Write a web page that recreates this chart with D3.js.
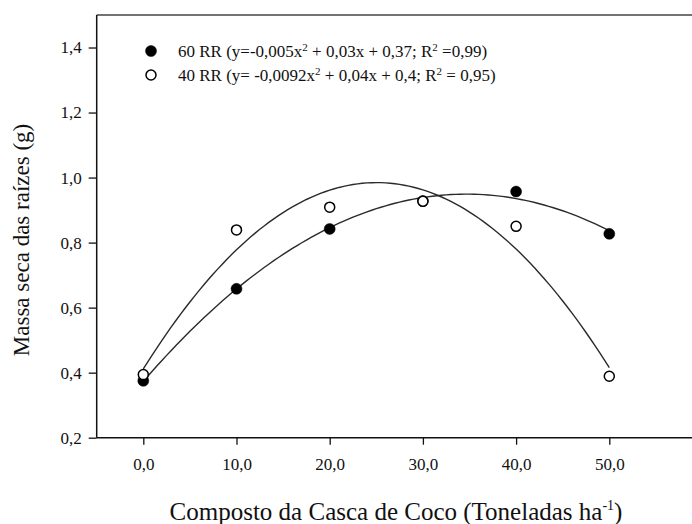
<!DOCTYPE html>
<html>
<head>
<meta charset="utf-8">
<script src="https://cdn.jsdelivr.net/npm/d3@7"></script>
<style>
    body { margin: 0; background: #fff; }
    svg text { font-family: "Liberation Serif", "Times New Roman", serif; fill: #111; }
</style>
</head>
<body>
<div id="chart"></div>
<script>
// data
let doses = [0, 10, 20, 30, 40, 50];
let rr60 = [0.375, 0.658, 0.842, 0.928, 0.957, 0.827];
let rr40 = [0.394, 0.839, 0.909, 0.927, 0.850, 0.389];
let xTicks = [0, 10, 20, 30, 40, 50];
let yTicks = [0.2, 0.4, 0.6, 0.8, 1.0, 1.2, 1.4];

// set the dimensions of the graph
let W = 692, H = 524;
let plotLeft = 96.7, plotTop = 15, plotBottom = 437.7;
let serif = "'Liberation Serif', 'Times New Roman', serif";

let svg = d3.select("#chart")
    .append("svg")
    .attr("width", W)
    .attr("height", H)
    .attr("font-family", serif);

let x = d3.scaleLinear()
    .domain([-5, 60])
    .range([plotLeft, plotLeft + 65 * 9.32]);

let y = d3.scaleLinear()
    .domain([0.2, 1.5])
    .range([plotBottom, plotTop]);

let fmt = function(d) { return d3.format(".1f")(d).replace(".", ","); };

// quadratic least squares fit of a series
function quadFit(xs, ys) {
    let n = xs.length, s = [0, 0, 0, 0, 0], t = [0, 0, 0];
    for (let i = 0; i < n; i++) {
        let p = 1;
        for (let k = 0; k < 5; k++) { s[k] += p; if (k < 3) t[k] += p * ys[i]; p *= xs[i]; }
    }
    let m = [[s[0], s[1], s[2], t[0]], [s[1], s[2], s[3], t[1]], [s[2], s[3], s[4], t[2]]];
    for (let i = 0; i < 3; i++) {
        for (let j = i + 1; j < 3; j++) {
            let f = m[j][i] / m[i][i];
            for (let k = i; k < 4; k++) m[j][k] -= f * m[i][k];
        }
    }
    let c = [0, 0, 0];
    for (let i = 2; i >= 0; i--) {
        let v = m[i][3];
        for (let k = i + 1; k < 3; k++) v -= m[i][k] * c[k];
        c[i] = v / m[i][i];
    }
    return function(v) { return c[0] + c[1] * v + c[2] * v * v; };
}

// frame: top line, left axis, bottom axis
svg.append("line")
    .attr("x1", plotLeft).attr("x2", W)
    .attr("y1", plotTop).attr("y2", plotTop)
    .attr("stroke", "#444").attr("stroke-width", 1.5);

let yAxis = svg.append("g")
    .attr("transform", "translate(" + plotLeft + ",0)")
    .call(d3.axisLeft(y).tickValues(yTicks).tickFormat(fmt).tickSize(8).tickPadding(7))
    .attr("font-family", serif)
    .attr("font-size", 17);
yAxis.select(".domain").attr("stroke", "#111").attr("stroke-width", 1.5).attr("d", "M0," + plotTop + "V" + plotBottom);
yAxis.selectAll("line").attr("stroke", "#111").attr("stroke-width", 1.3);
yAxis.selectAll("text").attr("fill", "#111");

let xAxis = svg.append("g")
    .attr("transform", "translate(0," + plotBottom + ")")
    .call(d3.axisBottom(x).tickValues(xTicks).tickFormat(fmt).tickSize(7).tickPadding(13))
    .attr("font-family", serif)
    .attr("font-size", 17);
xAxis.select(".domain").attr("stroke", "#111").attr("stroke-width", 1.5).attr("d", "M" + plotLeft + ",0H" + W);
xAxis.selectAll("line").attr("stroke", "#111").attr("stroke-width", 1.3);
xAxis.selectAll("text").attr("fill", "#111");

// fitted curves
let series = [
    {vals: rr60, fill: "#000"},
    {vals: rr40, fill: "#fff"}
];
let line = d3.line()
    .x(function(d) { return x(d[0]); })
    .y(function(d) { return y(d[1]); });

series.forEach(function(s) {
    let f = quadFit(doses, s.vals);
    let pts = d3.range(0, 50.01, 0.5).map(function(v) { return [v, f(v)]; });
    svg.append("path")
        .datum(pts)
        .attr("fill", "none")
        .attr("stroke", "#2a2a2a")
        .attr("stroke-width", 1.4)
        .attr("d", line);
});

// markers
series.forEach(function(s) {
    svg.append("g").selectAll("circle")
        .data(doses)
        .enter()
        .append("circle")
        .attr("cx", function(d) { return x(d); })
        .attr("cy", function(d, i) { return y(s.vals[i]); })
        .attr("r", s.fill === "#000" ? 5.5 : 5)
        .attr("fill", s.fill)
        .attr("stroke", "#000")
        .attr("stroke-width", s.fill === "#000" ? 0.5 : 1.5);
});

// legend
let legend = svg.append("g");
let rows = [
    {fill: "#000", y: 51, parts: ["60 RR (y=-0,005x", "2", " + 0,03x + 0,37; R", "2", " =0,99)"]},
    {fill: "#fff", y: 75, parts: ["40 RR (y= -0,0092x", "2", " + 0,04x + 0,4; R", "2", " = 0,95)"]}
];
rows.forEach(function(r) {
    legend.append("circle")
        .attr("cx", 151).attr("cy", r.y)
        .attr("r", r.fill === "#000" ? 5.5 : 5)
        .attr("fill", r.fill)
        .attr("stroke", "#000")
        .attr("stroke-width", r.fill === "#000" ? 0.5 : 1.5);
    let t = legend.append("text")
        .attr("x", 178).attr("y", r.y + 5.5)
        .style("font-size", "17px");
    r.parts.forEach(function(p, i) {
        let sp = t.append("tspan").text(p);
        if (i % 2 === 1) sp.attr("dy", -6).style("font-size", "11px");
        else if (i > 0) sp.attr("dy", 6);
    });
});

// axis titles
svg.append("text")
    .attr("transform", "translate(29,240) rotate(-90)")
    .attr("text-anchor", "middle")
    .style("font-size", "23px")
    .text("Massa seca das raízes (g)");

let xt = svg.append("text")
    .attr("x", 396).attr("y", 520)
    .attr("text-anchor", "middle")
    .style("font-size", "25px");
xt.append("tspan").text("Composto da Casca de Coco (Toneladas ha");
xt.append("tspan").attr("dy", -10).style("font-size", "14px").text("-1");
xt.append("tspan").attr("dy", 10).text(")");
</script>
</body>
</html>
